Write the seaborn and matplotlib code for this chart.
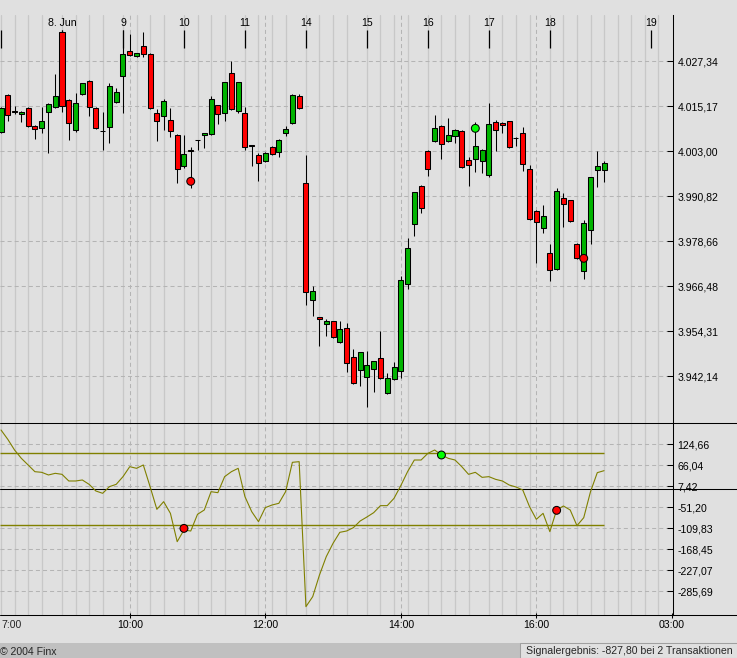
import matplotlib
matplotlib.use("Agg")
import matplotlib.pyplot as plt
import matplotlib.transforms as mtransforms
from matplotlib.lines import Line2D
from matplotlib.patches import Rectangle
import numpy as np
import pandas as pd
import seaborn as sns

# Stundenkerzen 7.-18. Juni (Open, High, Low, Close)
opens = [4008.25, 4018.07, 4013.74, 4012.93, 4014.55, 4009.69, 4009.15, 4013.47, 4014.82, 4035.09,
         4016.71, 4008.61, 4018.34, 4021.94, 4014.55, 4008.40, 4009.42, 4016.35, 4023.20, 4029.95,
         4028.69, 4031.30, 4029.14, 4013.20, 4012.39, 4011.31, 4007.26, 3998.89, 4003.12, 4005.91,
         4007.26, 4007.71, 4015.36, 4013.20, 4024.01, 4013.74, 4013.20, 4004.47, 4001.86, 4000.42,
         4004.11, 4002.85, 4007.80, 4010.50, 4017.80, 3994.38, 3962.68, 3958.09, 3956.38, 3957.01,
         3951.52, 3955.12, 3947.29, 3943.77, 3941.88, 3944.05, 3947.02, 3937.73, 3941.34, 3943.50,
         3967.01, 3983.22, 3993.48, 4002.94, 4005.64, 4009.69, 4005.82, 4006.99, 4008.34, 4000.51,
         4000.78, 4000.24, 3996.45, 4010.77, 4010.50, 4011.04, 4006.50, 4007.80, 3998.07, 3986.73,
         3982.14, 3975.38, 3971.06, 3990.24, 3989.70, 3977.90, 3970.52, 3981.60, 3997.80, 3997.80]
highs = [4014.82, 4018.34, 4015.18, 4013.83, 4015.00, 4010.05, 4015.00, 4015.90, 4023.83, 4035.72,
         4016.99, 4018.61, 4021.49, 4022.21, 4014.82, 4013.56, 4021.31, 4019.96, 4035.72, 4034.54,
         4029.59, 4035.18, 4029.41, 4014.37, 4017.17, 4014.64, 4007.53, 4007.35, 4004.20, 4006.00,
         4007.98, 4017.89, 4015.54, 4021.76, 4027.34, 4021.76, 4015.00, 4004.56, 4002.40, 4002.76,
         4004.47, 4006.18, 4009.78, 4018.34, 4018.34, 4001.95, 3966.56, 3958.20, 3957.64, 3957.19,
         3957.10, 3956.47, 3949.54, 3948.82, 3949.00, 3946.30, 3954.40, 3943.05, 3946.03, 3969.26,
         3979.52, 3992.00, 3993.75, 4003.30, 4012.75, 4009.96, 4011.94, 4008.88, 4008.61, 4001.32,
         4010.77, 4003.48, 4015.90, 4011.31, 4010.77, 4011.22, 4006.90, 4009.60, 3999.16, 3987.20,
         3988.44, 3977.90, 3993.12, 3991.59, 3989.88, 3978.08, 3984.39, 3995.91, 4003.03, 4000.33]
lows = [4007.98, 4011.22, 4013.02, 4010.95, 4009.42, 4006.36, 4007.98, 4002.58, 4014.55, 4013.65,
        4006.09, 4008.25, 4018.07, 4012.48, 4009.06, 4003.39, 4005.28, 4016.08, 4013.38, 4028.69,
        4028.33, 4028.51, 4014.28, 4005.82, 4008.79, 4006.90, 3994.47, 3998.52, 3992.94, 4003.30,
        4003.93, 4007.44, 4010.41, 4011.22, 4014.01, 4013.38, 4003.21, 3999.07, 3995.01, 4000.15,
        4002.04, 4001.50, 4007.17, 4010.23, 4014.37, 3961.50, 3958.54, 3950.44, 3953.14, 3952.60,
        3951.25, 3943.41, 3940.17, 3939.63, 3933.95, 3938.01, 3941.52, 3937.46, 3941.07, 3941.79,
        3965.84, 3980.15, 3986.37, 3996.36, 4005.37, 4000.96, 4005.55, 4005.10, 3998.34, 3993.66,
        3997.44, 3997.17, 3996.09, 4003.12, 4007.98, 4003.75, 4004.47, 3997.71, 3984.30, 3972.68,
        3980.79, 3968.00, 3970.79, 3982.59, 3983.76, 3973.76, 3968.36, 3977.81, 3993.39, 3994.74]
closes = [4014.55, 4012.66, 4013.47, 4013.65, 4009.69, 4008.88, 4011.04, 4015.63, 4017.80, 4015.18,
          4010.50, 4015.90, 4021.31, 4015.00, 4009.33, 4008.30, 4020.50, 4018.88, 4029.14, 4028.87,
          4029.41, 4029.23, 4014.55, 4011.04, 4016.44, 4008.34, 3998.07, 4002.13, 4003.00, 4005.85,
          4007.80, 4016.99, 4012.93, 4021.58, 4014.28, 4021.58, 4004.11, 4004.40, 3999.70, 4002.58,
          4002.31, 4005.91, 4008.88, 4018.07, 4014.73, 3964.85, 3965.21, 3957.55, 3957.19, 3952.87,
          3954.85, 3945.67, 3940.44, 3948.64, 3945.13, 3946.21, 3941.79, 3941.61, 3944.59, 3968.09,
          3976.73, 3991.86, 3987.54, 3998.07, 4009.24, 4005.01, 4007.26, 4008.61, 3998.61, 3999.16,
          4004.29, 4003.21, 4010.23, 4008.61, 4009.96, 4004.20, 4006.40, 3999.43, 3984.57, 3983.76,
          3985.47, 3970.79, 3992.13, 3988.62, 3984.03, 3974.03, 3983.49, 3995.91, 3998.97, 3999.78]

# CCI-Oszillator, ein Wert je Kerze
cci = [164.7, 138.6, 108.8, 85.6, 67.0, 48.3, 46.5, 39.1, 43.7, 40.9,
       22.3, 22.3, 25.1, 13.0, -5.6, -12.1, 6.5, 13.0, 34.4, 62.3,
       57.7, 67.0, 6.5, -56.8, -35.4, -68.0, -147.1, -114.5, -117.3, -70.7,
       -58.6, -7.5, -10.3, 34.4, 48.3, 57.7, -21.4, -63.3, -91.2, -52.1,
       -44.7, -40.0, -7.5, 74.4, 76.3, -328.5, -300.6, -240.1, -188.9, -151.7,
       -121.0, -117.3, -108.0, -89.4, -78.2, -66.1, -46.5, -46.5, -26.1, 9.3,
       48.3, 80.9, 80.9, 99.5, 108.8, 94.9, 85.6, 80.9, 62.3, 40.9,
       46.5, 32.5, 34.4, 26.9, 22.3, 11.1, 5.6, -2.8, -49.4, -84.7,
       -68.0, -119.1, -58.6, -47.5, -58.6, -102.4, -80.1, -7.5, 45.6, 51.1]
cci_bands = [100, -100]

# Signale
price_sig_idx = [28, 70, 86]
price_sig_val = [3994.83, 4009.15, 3974.03]
cci_sig_idx = [27, 65, 82]
cci_sig_val = [-110.0, 94.9, -59.6]
sig_colors = ["#ff0000", "#00ff00", "#ff0000"]

price_ticks = [4027.34, 4015.17, 4003.00, 3990.82, 3978.66, 3966.48, 3954.31, 3942.14]
cci_ticks = [124.66, 66.04, 7.42, -51.20, -109.83, -168.45, -227.07, -285.69]
day_labels = ["", "8. Jun", "9", "10", "11", "14", "15", "16", "17", "18", "19"]
day_pos = [0, 9, 18, 27, 36, 45, 54, 63, 72, 81, 96]
time_labels = ["10:00", "12:00", "14:00", "16:00", "03:00"]
time_pos = [19, 39, 59, 79, 99]
signal_text = "Signalergebnis: -827,80 bei 2 Transaktionen"
copyright_text = "\u00a9 2004 Finx"

BG = "#e0e0e0"
GREEN = "#00b400"
RED = "#ff0000"
OLIVE = "#808000"

sns.set_theme(style="white")
plt.rcParams["font.family"] = ["Liberation Sans", "DejaVu Sans"]
plt.rcParams["lines.scale_dashes"] = False
FS = 7.6


def de(v):
    s = f"{v:,.2f}"
    return s.replace(",", "X").replace(".", ",").replace("X", ".")


df = pd.DataFrame({"idx": np.arange(len(opens)), "open": opens, "high": highs,
                   "low": lows, "close": closes, "cci": cci})
df["up"] = df["close"] >= df["open"]

W, H = 737, 658
fig = plt.figure(figsize=(W / 100, H / 100), dpi=100, facecolor=BG)
ax1 = fig.add_axes([0, (H - 423) / H, 672.5 / W, 408 / H], facecolor=BG)
ax2 = fig.add_axes([0, (H - 614.5) / H, 672.5 / W, 191.5 / H], facecolor=BG)

# Fußleiste
fig.patches.append(Rectangle((0, 0), 1, 15 / H, transform=fig.transFigure,
                             facecolor="#c0c0c0", edgecolor="none", zorder=0))
fig.patches.append(Rectangle((520 / W, 0), 1, 15 / H, transform=fig.transFigure,
                             facecolor=BG, edgecolor="#a0a0a0", lw=0.75, zorder=1))

grid_pos = [d + k for d in day_pos[:10] for k in (0, 2, 4, 6)] + [89, 91, 93, 95, 97]
xmin, xmax = -0.15, 99.1

for ax in (ax1, ax2):
    for g in grid_pos:
        ax.axvline(g, color="#c8c8c8", lw=0.9, zorder=0)
    for t in time_pos[:-1]:
        ax.axvline(t, color="#b4b4b4", lw=0.75, ls=(0, (2.9, 2.2)), zorder=0)
    ax.set_xlim(xmin, xmax)
    for s in ("left", "top", "bottom"):
        ax.spines[s].set_visible(False)
    ax.spines["right"].set_color("black")
    ax.spines["right"].set_linewidth(0.75)
    ax.yaxis.tick_right()
    ax.tick_params(axis="y", direction="in", length=4, width=0.75, pad=3.5,
                   labelsize=FS, colors="black", right=True, left=False)

# oberes Fenster: Kerzen
for v in price_ticks:
    ax1.axhline(v, color="#b4b4b4", lw=0.75, ls=(0, (2.9, 2.2)), zorder=0)
ax1.vlines(df["idx"], df["low"], df["high"], color="black", lw=0.75, zorder=2)
body = (df["close"] - df["open"]).where(lambda s: s.abs() > 0.15, 0.15)
ax1.bar(df["idx"], body, bottom=df["open"], width=0.74,
        color=np.where(df["up"], GREEN, RED), edgecolor="black", lw=0.75, zorder=3)
sns.scatterplot(x=price_sig_idx, y=price_sig_val, ax=ax1, hue=price_sig_idx,
                palette=sig_colors, s=32, edgecolor="black", linewidth=0.75,
                legend=False, zorder=4)
ax1.set_ylim(3929.54, 4039.77)
ax1.set_yticks(price_ticks)
ax1.set_yticklabels([de(v) for v in price_ticks])
ax1.tick_params(axis="x", bottom=False, labelbottom=False)

trans = mtransforms.blended_transform_factory(ax1.transData, ax1.transAxes)
for p, lab in zip(day_pos, day_labels):
    ax1.plot([p, p], [0.919, 0.963], transform=trans, color="black", lw=0.9,
             solid_capstyle="butt", zorder=2)
    ax1.text(p, 0.980, lab, transform=trans, ha="center", va="center",
             fontsize=FS, color="black")

# unteres Fenster: CCI
for v in cci_ticks:
    ax2.axhline(v, color="#b4b4b4", lw=0.75, ls=(0, (2.9, 2.2)), zorder=0)
ax2.hlines(cci_bands, xmin, df["idx"].iloc[-1], color=OLIVE, lw=1.0, zorder=1)
ax2.axhline(0, xmin=0, xmax=W / 672.5, clip_on=False, color="black", lw=0.75, zorder=1)
sns.lineplot(data=df, x="idx", y="cci", ax=ax2, color=OLIVE, lw=0.8, zorder=2)
sns.scatterplot(x=cci_sig_idx, y=cci_sig_val, ax=ax2, hue=cci_sig_idx,
                palette=sig_colors, s=32, edgecolor="black", linewidth=0.75,
                legend=False, zorder=4)
ax2.set_ylim(-350.4, 184.2)
ax2.set_yticks(cci_ticks)
ax2.set_yticklabels([de(v) for v in cci_ticks])
ax2.set_xticks(time_pos)
ax2.set_xticklabels(time_labels)
ax2.tick_params(axis="x", direction="inout", length=3.6, width=0.75, pad=2.4,
                labelsize=FS, colors="black", bottom=True)
ax2.set_xlabel("")
ax2.set_ylabel("")

# durchgehende Trennlinien
for y in (423, 614.5):
    fig.add_artist(Line2D([0, 1], [(H - y) / H] * 2, transform=fig.transFigure,
                          color="black", lw=0.75))

fig.text(1.7 / W, (H - 624.5) / H, "7:00", ha="left", va="center", fontsize=FS)
fig.text(0.5 / W, (H - 652) / H, copyright_text, ha="left", va="center", fontsize=FS)
fig.text(525.7 / W, (H - 651.5) / H, signal_text, ha="left", va="center", fontsize=FS)

fig.savefig("out.png", dpi=100, facecolor=BG)
